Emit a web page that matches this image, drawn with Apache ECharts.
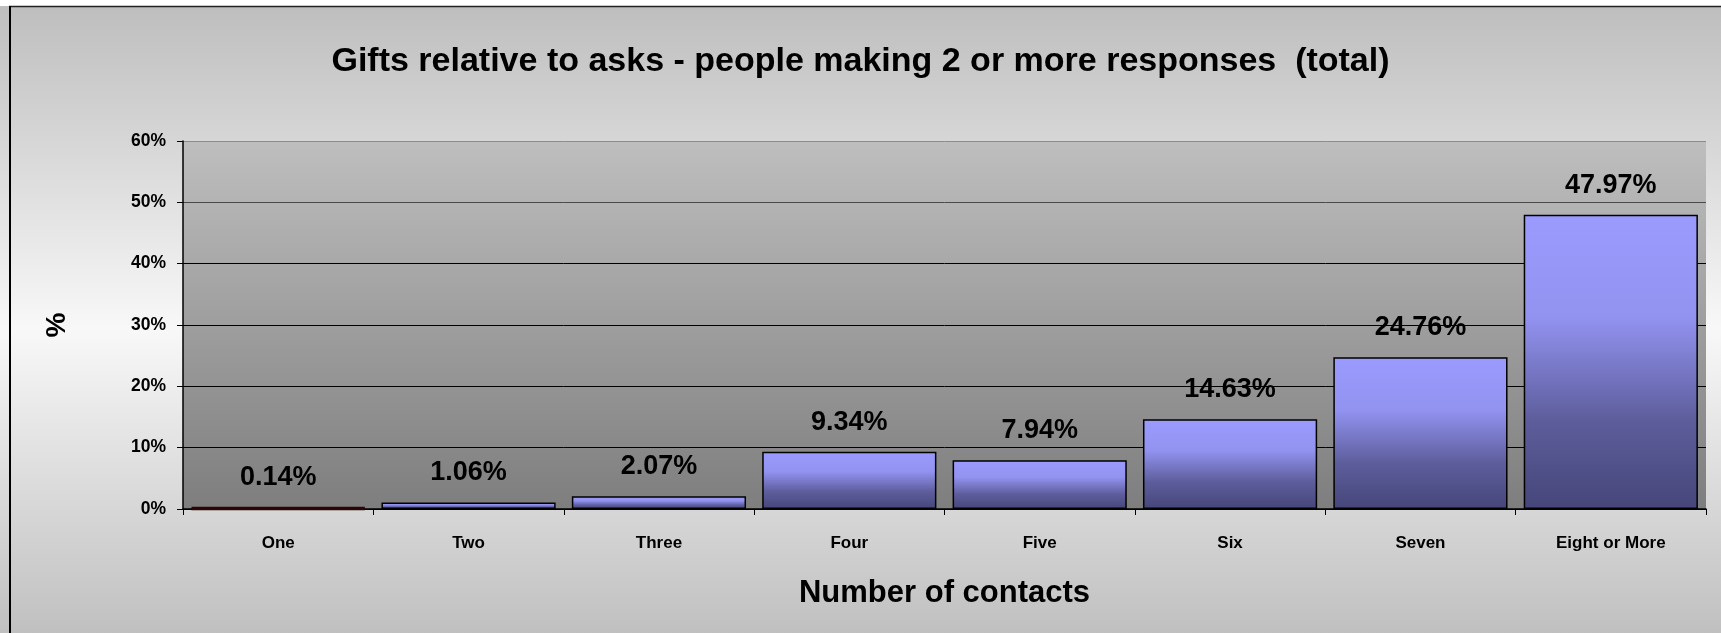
<!DOCTYPE html>
<html>
<head>
<meta charset="utf-8">
<title>Gifts relative to asks</title>
<script src="https://cdn.jsdelivr.net/npm/echarts@6/dist/echarts.min.js"></script>
<style>
  html, body { margin: 0; padding: 0; background: #ffffff; }
  #chart { width: 1721px; height: 633px; }
</style>
</head>
<body>
<div id="chart"></div>
<script>
// Share of gifts relative to asks, by number of contacts (people with 2+ responses)
const categories = ['One', 'Two', 'Three', 'Four', 'Five', 'Six', 'Seven', 'Eight or More'];
const giftShare = [0.14, 1.06, 2.07, 9.34, 7.94, 14.63, 24.76, 47.97];
const yTicks = { min: 0, max: 60, interval: 10 };

const titleText = 'Gifts relative to asks - people making 2 or more responses  (total)';
const xAxisTitle = 'Number of contacts';
const yAxisTitle = '%';

const FONT = '"Liberation Sans", Arial, sans-serif';

const barGradient = new echarts.graphic.LinearGradient(0, 0, 0, 1, [
  { offset: 0, color: '#9b9bff' },
  { offset: 0.35, color: '#9292f0' },
  { offset: 0.7, color: '#5d5d9c' },
  { offset: 1, color: '#46467a' }
]);

// The first category is drawn in dark maroon with a heavier outline
const seriesData = giftShare.map((v, i) => {
  if (i === 0) {
    return { value: v, itemStyle: { color: '#3e0b0b', borderColor: '#2a0606', borderWidth: 3.5 } };
  }
  return { value: v };
});

const chart = echarts.init(document.getElementById('chart'), null, { renderer: 'canvas' });

chart.setOption({
  animation: false,
  backgroundColor: new echarts.graphic.LinearGradient(0, 0, 0, 1, [
    { offset: 0, color: '#bdbdbd' },
    { offset: 0.52, color: '#f8f8f8' },
    { offset: 1, color: '#c0c0c0' }
  ]),
  title: {
    text: titleText,
    left: 'center',
    top: 45,
    padding: [0, 0, 0, 20],
    textStyle: {
      fontFamily: FONT,
      fontWeight: 'bold',
      fontSize: 34,
      color: '#000000'
    }
  },
  graphic: [
    { type: 'rect', shape: { x: 0, y: 0, width: 1721, height: 6 }, style: { fill: '#ffffff' }, silent: true },
    { type: 'line', shape: { x1: 9, y1: 6.5, x2: 1721, y2: 6.5 }, style: { stroke: '#222222', lineWidth: 1.5 }, silent: true },
    { type: 'line', shape: { x1: 10, y1: 6, x2: 10, y2: 633 }, style: { stroke: '#000000', lineWidth: 2 }, silent: true }
  ],
  grid: {
    left: 183,
    right: 15,
    top: 141,
    bottom: 124,
    show: true,
    borderWidth: 0,
    backgroundColor: new echarts.graphic.LinearGradient(0, 0, 0, 1, [
      { offset: 0, color: '#bebebe' },
      { offset: 1, color: '#7e7e7e' }
    ])
  },
  xAxis: {
    type: 'category',
    data: categories,
    name: xAxisTitle,
    nameLocation: 'middle',
    nameGap: 69,
    nameTextStyle: {
      fontFamily: FONT,
      fontWeight: 'bold',
      fontSize: 31,
      color: '#000000'
    },
    axisLine: { show: true, lineStyle: { color: '#000000', width: 1.5 } },
    axisTick: { show: true, length: 6, lineStyle: { color: '#000000', width: 1 } },
    axisLabel: {
      margin: 26,
      fontFamily: FONT,
      fontWeight: 'bold',
      fontSize: 17,
      color: '#000000'
    }
  },
  yAxis: {
    type: 'value',
    min: yTicks.min,
    max: yTicks.max,
    interval: yTicks.interval,
    name: yAxisTitle,
    nameLocation: 'middle',
    nameGap: 112,
    nameRotate: 90,
    nameTextStyle: {
      fontFamily: FONT,
      fontWeight: 'bold',
      fontSize: 28,
      color: '#000000'
    },
    axisLine: { show: true, lineStyle: { color: '#000000', width: 1.5 } },
    axisTick: { show: true, length: 6, lineStyle: { color: '#000000', width: 1 } },
    axisLabel: {
      margin: 17,
      formatter: '{value}%',
      fontFamily: FONT,
      fontWeight: 'bold',
      fontSize: 17.5,
      color: '#000000'
    },
    splitLine: {
      show: true,
      lineStyle: {
        color: ['#000000', '#000000', '#000000', '#000000', '#000000', '#4a4a4a', '#8c8c8c'],
        width: 1
      }
    }
  },
  series: [{
    type: 'bar',
    z: 3,
    data: seriesData,
    barCategoryGap: '8.5%',
    itemStyle: {
      color: barGradient,
      borderColor: '#000000',
      borderWidth: 1.5
    },
    label: {
      show: true,
      position: 'top',
      distance: 16,
      formatter: (p) => p.value.toFixed(2) + '%',
      fontFamily: FONT,
      fontWeight: 'bold',
      fontSize: 27,
      color: '#000000'
    }
  }]
});
</script>
</body>
</html>
